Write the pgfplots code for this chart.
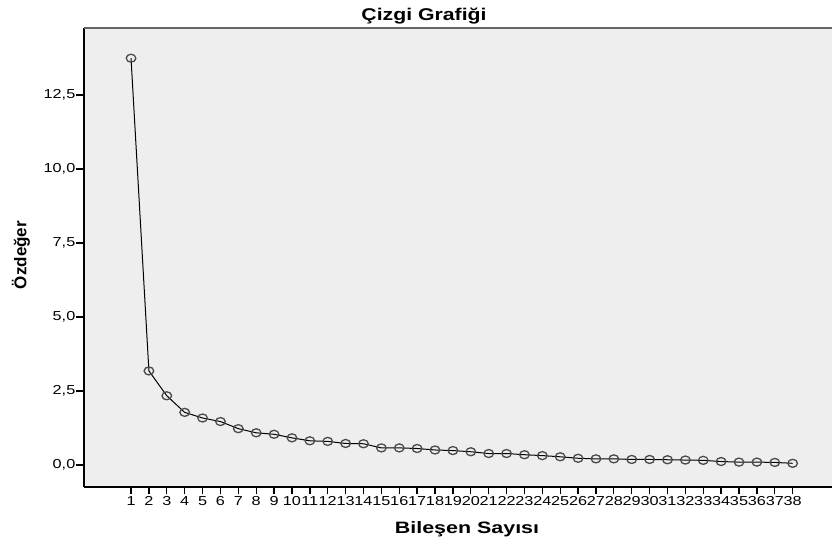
\documentclass[border=0pt]{standalone}
\usepackage{fontspec}
\setmainfont{Liberation Sans}[FakeStretch=1.25]
\newfontfamily\labfont{Liberation Sans}[FakeStretch=1.3]
\newfontfamily\plainfont{Liberation Sans}
\usepackage{pgfplots}
\pgfplotsset{compat=1.18}
\definecolor{bg}{HTML}{EEEEEE}
\definecolor{mk}{HTML}{4A4A4A}
\pgfplotstableread{
x y
1 13.74
2 3.18
3 2.34
4 1.78
5 1.59
6 1.47
7 1.23
8 1.09
9 1.04
10 0.92
11 0.82
12 0.80
13 0.73
14 0.72
15 0.58
16 0.58
17 0.56
18 0.51
19 0.49
20 0.45
21 0.39
22 0.39
23 0.35
24 0.32
25 0.28
26 0.23
27 0.21
28 0.21
29 0.19
30 0.19
31 0.18
32 0.17
33 0.16
34 0.12
35 0.10
36 0.10
37 0.09
38 0.06
}\scree
\begin{document}
\begin{tikzpicture}
\begin{axis}[
  at={(0,0)}, anchor=south west,
  scale only axis, width=748pt, height=459pt,
  xmin=-1.63, xmax=40.2, ymin=-0.74, ymax=14.76,
  axis background/.style={fill=bg},
  axis x line*=bottom, axis y line*=left,
  axis line style={black, line width=1.6pt},
  tick align=outside, major tick length=7.5pt,
  tick style={black, line width=1.3pt},
  xtick={1,...,38},
  ytick={0,2.5,5,7.5,10,12.5},
  /pgf/number format/assume math mode=true,
  yticklabel style={/pgf/number format/.cd, fixed, fixed zerofill, precision=1, use comma},
  ticklabel style={font=\fontsize{13}{15}\selectfont, inner sep=1pt},
  xticklabel style={yshift=-0.5pt},
  clip=false,
]
\addplot[black, line width=1pt, mark=o, mark size=4pt,
  mark options={mk, line width=1.3pt, xscale=1.2}] table[x=x, y=y] {\scree};
\draw[color=gray!80!black, line width=2pt] (rel axis cs:0,1) -- (rel axis cs:1,1);
\end{axis}
\node[anchor=base, font=\bfseries\fontsize{17}{20}\selectfont] at (340pt,466pt) {Çizgi Grafiği};
\node[anchor=base, font=\labfont\bfseries\fontsize{16.5}{20}\selectfont] at (383pt,-47pt) {Bileşen Sayısı};
\node[rotate=90, font=\plainfont\bfseries\fontsize{17}{20}\selectfont] at (-63pt,232pt) {Özdeğer};
\pgfresetboundingbox
\path[use as bounding box] (-84pt,-58pt) rectangle (748pt,487pt);
\end{tikzpicture}
\end{document}
